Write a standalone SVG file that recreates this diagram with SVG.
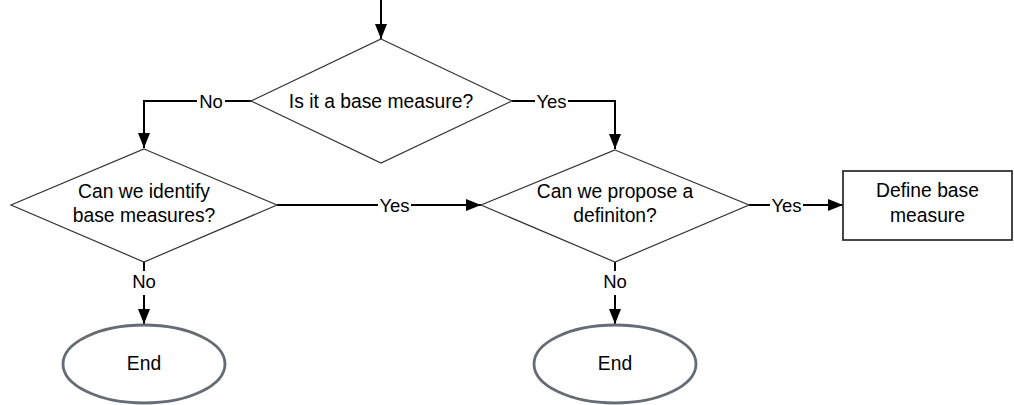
<svg xmlns="http://www.w3.org/2000/svg" width="1014" height="405" viewBox="0 0 1014 405">
<style>
.shape{fill:#fff;stroke:#333;stroke-width:1.2}
.box{fill:#fff;stroke:#333;stroke-width:1.8}
.term{fill:#fff;stroke:#656c76;stroke-width:2.8}
.t{font-family:"Liberation Sans",Arial,sans-serif;font-size:19.3px;fill:#000;text-anchor:middle}
.lbl{font-family:"Liberation Sans",Arial,sans-serif;font-size:18.5px;fill:#000;text-anchor:middle}
.edge{fill:none;stroke:#000;stroke-width:2}
.bg{fill:#fff}
</style>
<defs>
<marker id="arr" markerUnits="userSpaceOnUse" markerWidth="16" markerHeight="13" refX="15" refY="6" orient="auto">
<path d="M0,0 L15,6 L0,12 z" fill="#000"/>
</marker>
</defs>
<g id="connectors">
<path class="edge" d="M381,0 V39" marker-end="url(#arr)"/>
<path class="edge" d="M251,101 H144 V148" marker-end="url(#arr)"/>
<path class="edge" d="M512,101 H615 V149" marker-end="url(#arr)"/>
<path class="edge" d="M277,205 H481" marker-end="url(#arr)"/>
<path class="edge" d="M749,205 H843" marker-end="url(#arr)"/>
<path class="edge" d="M144,262 V324" marker-end="url(#arr)"/>
<path class="edge" d="M615,262 V324" marker-end="url(#arr)"/>
<rect class="bg" x="197" y="90" width="28" height="22"/>
<text class="lbl" x="211" y="107.5">No</text>
<rect class="bg" x="535" y="90" width="33" height="22"/>
<text class="lbl" x="551.5" y="107.5">Yes</text>
<rect class="bg" x="378" y="194" width="33" height="22"/>
<text class="lbl" x="394.5" y="211.5">Yes</text>
<rect class="bg" x="770" y="194" width="33" height="22"/>
<text class="lbl" x="786.5" y="211.5">Yes</text>
<rect class="bg" x="130" y="271" width="28" height="24"/>
<text class="lbl" x="144" y="288">No</text>
<rect class="bg" x="601" y="271" width="28" height="24"/>
<text class="lbl" x="615" y="288">No</text>
</g>
<g id="n-base">
<polygon class="shape" points="381,39 512,101 381,163 251,101"/>
<text class="t" x="381" y="107.5">Is it a base measure?</text>
</g>
<g id="n-identify">
<polygon class="shape" points="144,149 277,205 144,262 11,205"/>
<text class="t" x="144" y="197.5">Can we identify</text>
<text class="t" x="144" y="221.5">base measures?</text>
</g>
<g id="n-propose">
<polygon class="shape" points="615,150 749,205 615,262 481,205"/>
<text class="t" x="615" y="197.5">Can we propose a</text>
<text class="t" x="615" y="221.5">definiton?</text>
</g>
<g id="n-define">
<rect class="box" x="843" y="171" width="169" height="69"/>
<text class="t" x="927.5" y="197">Define base</text>
<text class="t" x="927.5" y="221.5">measure</text>
</g>
<g id="n-end1">
<ellipse class="term" cx="144" cy="364" rx="81" ry="39"/>
<text class="t" x="144" y="370">End</text>
</g>
<g id="n-end2">
<ellipse class="term" cx="615" cy="364" rx="81" ry="39"/>
<text class="t" x="615" y="370">End</text>
</g>
</svg>
